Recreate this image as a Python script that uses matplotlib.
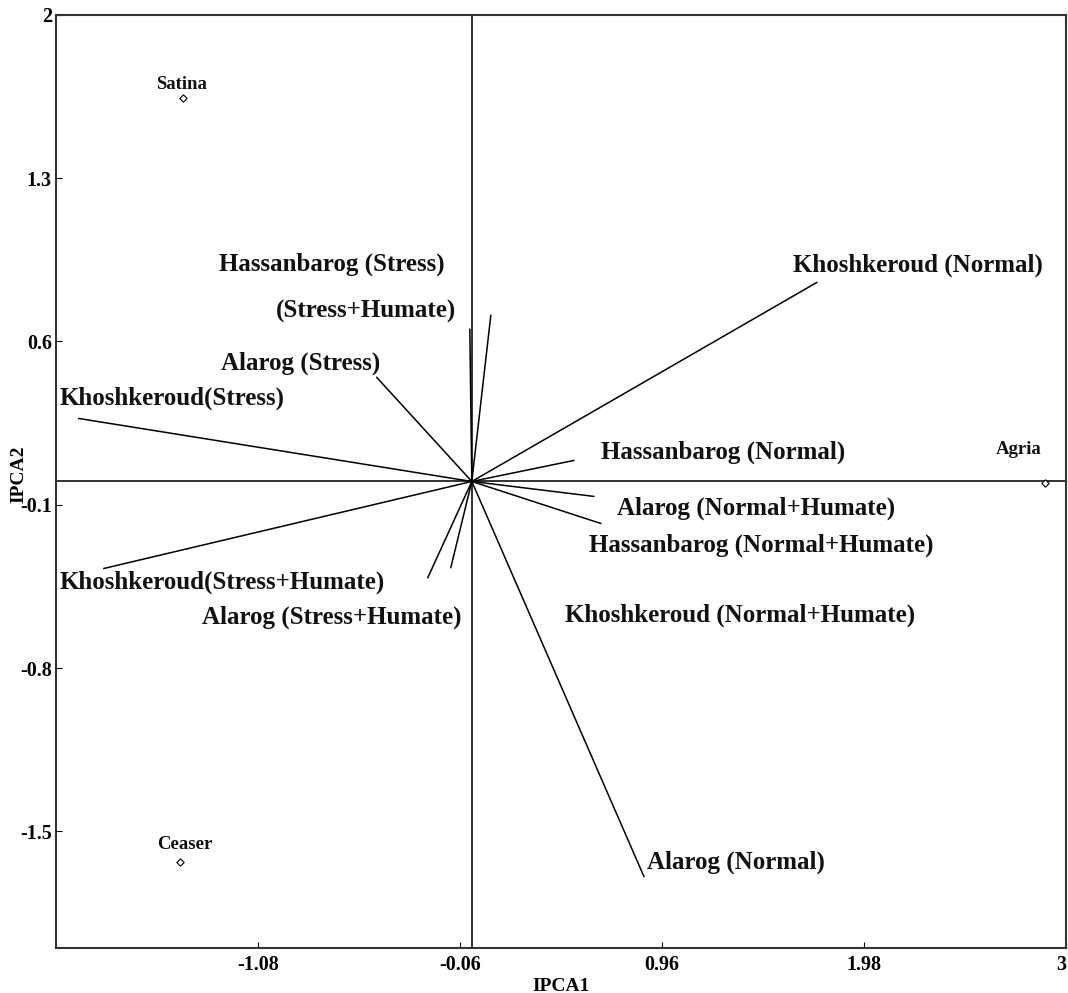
import matplotlib.pyplot as plt
import numpy as np

# environment vectors (IPCA1, IPCA2)
env_names = ['Khoshkeroud (Normal)', 'Hassanbarog (Normal)', 'Alarog (Normal+Humate)',
             'Hassanbarog (Normal+Humate)', 'Alarog (Normal)', 'Khoshkeroud(Stress+Humate)',
             'Alarog (Stress+Humate)', 'Khoshkeroud (Normal+Humate)', 'Khoshkeroud(Stress)',
             'Alarog (Stress)', 'Hassanbarog (Stress)', '(Stress+Humate)']
env_x = [1.742, 0.515, 0.616, 0.651, 0.869, -1.858, -0.222, -0.106, -1.985, -0.480, -0.010, 0.096]
env_y = [0.853, 0.090, -0.064, -0.180, -1.693, -0.373, -0.412, -0.369, 0.270, 0.446, 0.652, 0.712]

# label anchor (left, center) for each environment label
env_lab_x = [1.622, 0.652, 0.733, 0.592, 0.885, -2.08, -1.363, 0.470, -2.08, -1.267, -1.277, -0.989]
env_lab_y = [0.926, 0.127, -0.113, -0.272, -1.633, -0.433, -0.583, -0.572, 0.356, 0.506, 0.930, 0.728]

# genotypes
gen_names = ['Satina', 'Ceaser', 'Agria']
gen_x = [-1.459, -1.474, 2.894]
gen_y = [1.644, -1.631, -0.006]
gen_lab_off = [(-1, 13), (5, 17), (-26, 33)]

plt.rcParams['font.family'] = ['Liberation Serif', 'DejaVu Serif']

fig = plt.figure(figsize=(10.68, 9.93), dpi=100)
ax = fig.add_axes([0.0524, 0.0453, 0.9456, 0.9397])

ax.axhline(0, color='#222222', lw=1.3, zorder=1)
ax.axvline(0, color='#222222', lw=1.3, zorder=1)

for x, y in zip(env_x, env_y):
    ax.plot([0, x], [0, y], color='black', lw=1.1)

for name, x, y in zip(env_names, env_lab_x, env_lab_y):
    ax.text(x, y, name, fontsize=18, fontweight='bold', ha='left', va='center', color='#111111')

ax.scatter(gen_x, gen_y, marker='D', s=14, facecolors='white', edgecolors='black', linewidths=0.8, zorder=3)
for name, x, y, off in zip(gen_names, gen_x, gen_y, gen_lab_off):
    ax.annotate(name, (x, y), textcoords='offset pixels', xytext=off, ha='center', va='center',
                fontsize=13.5, fontweight='bold', color='#111111')

ax.set_xlim(-2.1, 3)
ax.set_ylim(-2.0, 2)
ax.set_xticks([-1.08, -0.06, 0.96, 1.98, 3])
ax.set_xticklabels(['-1.08', '-0.06', '0.96', '1.98', '3'])
ax.set_yticks([2, 1.3, 0.6, -0.1, -0.8, -1.5])
ax.set_yticklabels(['2', '1.3', '0.6', '-0.1', '-0.8', '-1.5'])
ax.tick_params(direction='in', length=4, width=0.8, labelsize=14.5, pad=3)
ax.tick_params(axis='x', pad=5)
for lab in ax.get_xticklabels() + ax.get_yticklabels():
    lab.set_fontweight('bold')
ax.get_xticklabels()[-1].set_horizontalalignment('right')
for sp in ax.spines.values():
    sp.set_linewidth(1.5)
    sp.set_color('#333333')

ax.set_xlabel('IPCA1', fontsize=14, fontweight='bold', labelpad=2)
ax.set_ylabel('IPCA2', fontsize=14, fontweight='bold')
ax.yaxis.set_label_coords(-0.028, 0.508)

fig.savefig('out.png', dpi=100)
